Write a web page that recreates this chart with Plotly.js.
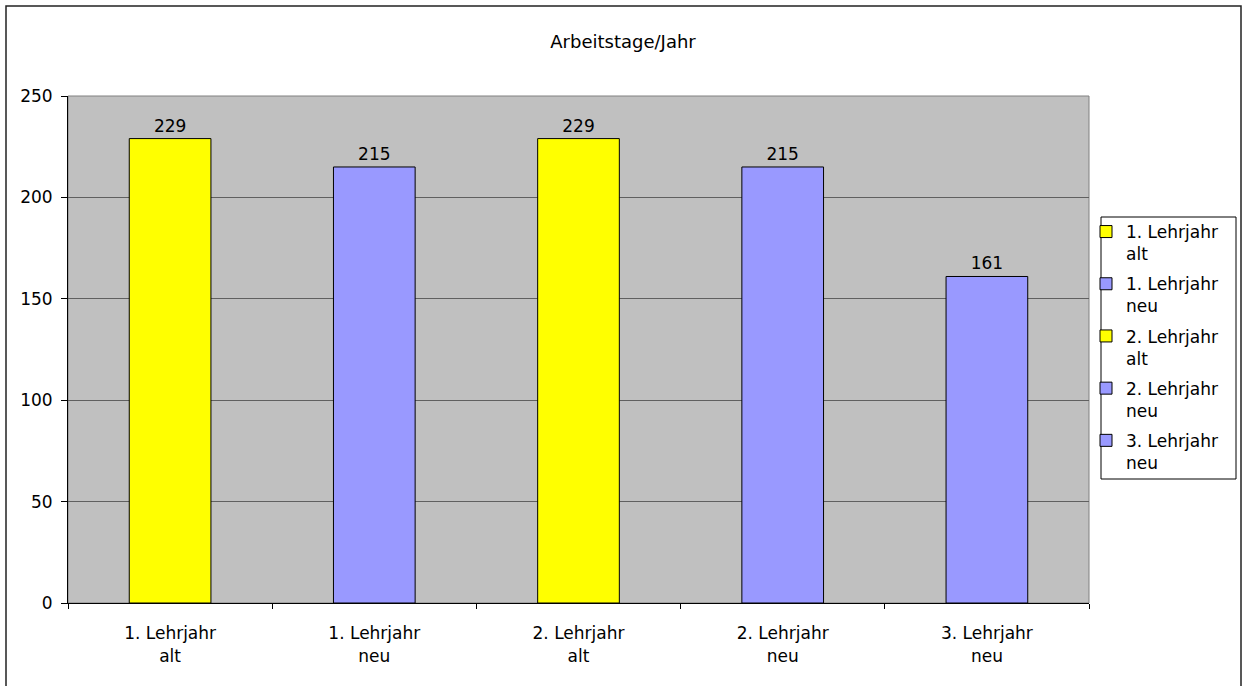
<!DOCTYPE html>
<html>
<head>
<meta charset="utf-8">
<script src="https://cdn.plot.ly/plotly-3.0.1.min.js"></script>
<style>
html,body{margin:0;padding:0;background:#fff;}
#chart{width:1247px;height:686px;}
</style>
</head>
<body>
<div id="chart"></div>
<script>
const categories = ["1. Lehrjahr<br>alt", "1. Lehrjahr<br>neu", "2. Lehrjahr<br>alt", "2. Lehrjahr<br>neu", "3. Lehrjahr<br>neu"];
const values = [229, 215, 229, 215, 161];
const colors = ["#FFFF00", "#9999FF", "#FFFF00", "#9999FF", "#9999FF"];
const titleText = "Arbeitstage/Jahr";
const yTicks = [0, 50, 100, 150, 200, 250];

const FONT = "'DejaVu Sans', sans-serif";
const FS = 17;

const traces = categories.map((c, i) => ({
  type: 'bar',
  name: c,
  legendgroup: 'g' + i,
  x: [c],
  y: [values[i]],
  width: 0.4,
  marker: {color: colors[i], line: {color: '#000', width: 1}},
  text: [String(values[i])],
  textposition: 'outside',
  textfont: {family: FONT, size: FS, color: '#000'},
  cliponaxis: false,
  hoverinfo: 'x+y'
}));

const L = 68, R = 1089, T = 96, B = 603, W = 1247, H = 686;
const px = v => (v - L) / (R - L);
const py = v => (B - v) / (B - T);

const layout = {
  width: W, height: H,
  margin: {l: L, r: W - R, t: T, b: H - B, pad: 0},
  paper_bgcolor: '#fff',
  plot_bgcolor: '#C0C0C0',
  font: {family: FONT, size: FS, color: '#000'},
  title: {text: titleText, font: {family: FONT, size: 18, color: '#000'}, x: px(623), xref: 'paper', xanchor: 'center', y: 1 - 42 / H, yanchor: 'middle'},
  barmode: 'overlay',
  showlegend: true,
  legend: {
    x: px(1086), y: py(214), xanchor: 'left', yanchor: 'top',
    bgcolor: 'rgba(0,0,0,0)', borderwidth: 0,
    font: {family: FONT, size: FS, color: '#000'},
    itemwidth: 30, tracegroupgap: 5, valign: 'top'
  },
  xaxis: {
    type: 'category',
    categoryorder: 'array', categoryarray: categories,
    showline: true, linecolor: '#000', linewidth: 1,
    ticks: 'outside', tickson: 'boundaries', ticklen: 5, tickcolor: '#000',
    ticklabelstandoff: 15,
    showgrid: false, zeroline: false,
    tickfont: {family: FONT, size: FS, color: '#000'},
    fixedrange: true
  },
  yaxis: {
    range: [0, 250], tickvals: yTicks, ticktext: yTicks.map(String),
    showline: true, linecolor: '#000', linewidth: 1,
    ticks: 'outside', ticklen: 6, tickcolor: '#000',
    ticklabelstandoff: 5,
    showgrid: true, gridcolor: '#606060', gridwidth: 1,
    zeroline: false,
    tickfont: {family: FONT, size: FS, color: '#000'},
    fixedrange: true
  },
  shapes: [
    {type: 'rect', xref: 'paper', yref: 'paper', x0: 0, x1: 1, y0: 0, y1: 1, line: {color: '#808080', width: 1}, layer: 'below'},
    {type: 'rect', xref: 'paper', yref: 'paper', x0: px(1101), x1: px(1236), y0: py(479), y1: py(217), line: {color: '#000', width: 1}, fillcolor: '#fff', layer: 'below'},
    {type: 'rect', xref: 'paper', yref: 'paper', x0: px(6), x1: px(1241), y0: py(700), y1: py(6), line: {color: '#222', width: 1.5}, fillcolor: 'rgba(0,0,0,0)'}
  ]
};

Plotly.newPlot('chart', traces, layout, {displayModeBar: false, staticPlot: true});
</script>
</body>
</html>
